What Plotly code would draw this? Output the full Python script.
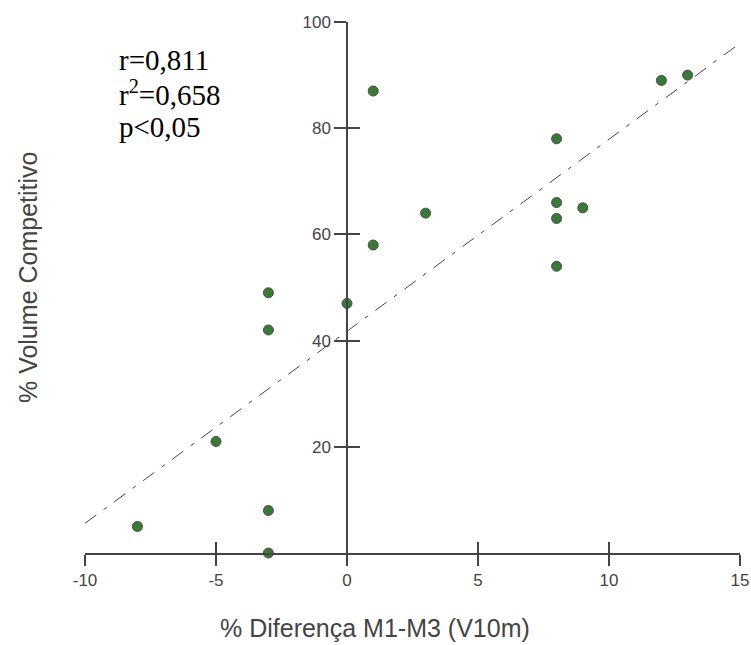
import plotly.graph_objects as go

# Data
diff_m1_m3 = [-8, -5, -3, -3, -3, -3, 0, 1, 1, 3, 8, 8, 8, 8, 9, 12, 13]
vol_competitivo = [5, 21, 49, 42, 8, 0, 47, 87, 58, 64, 78, 66, 63, 54, 65, 89, 90]

trend_x = [-10, 15]
trend_y = [5.6, 96]

x_ticks = [-10, -5, 0, 5, 10, 15]
x_tick_text = ["-10", "-5", "0", "5", "10", "15"]
y_ticks = [20, 40, 60, 80, 100]

stats_lines = ["r=0,811", "r<sup>2</sup>=0,658", "p<0,05"]

axis_col = "#444444"
font_sans = "Liberation Sans, Arial, sans-serif"

W, H = 751, 645
L, R, T, B = 85, 11, 22, 92
pw, ph = W - L - R, H - T - B


def px_x(page_x):
    return (page_x - L) / pw


def px_y(page_y):
    return (H - B - page_y) / ph


fig = go.Figure()

fig.add_trace(go.Scatter(
    x=trend_x, y=trend_y, mode="lines",
    line=dict(color="#444444", width=1, dash="14px,9px,4px,9px"),
    hoverinfo="skip", showlegend=False, cliponaxis=False,
))

fig.add_trace(go.Scatter(
    x=diff_m1_m3, y=vol_competitivo, mode="markers",
    marker=dict(size=10, color="#3a7a37", line=dict(color="#4a4a4a", width=1)),
    showlegend=False, cliponaxis=False,
))

# invisible trace for the overlaying axes (inside ticks -> crossing ticks)
fig.add_trace(go.Scatter(
    x=[trend_x[0]], y=[trend_y[0]], mode="markers", xaxis="x2", yaxis="y2",
    marker=dict(opacity=0), hoverinfo="skip", showlegend=False,
))

common_x = dict(range=[-10, 15], showgrid=False, zeroline=False, showline=True,
                linecolor=axis_col, linewidth=1.5, tickvals=x_ticks,
                ticktext=x_tick_text, ticklabeloverflow="allow",
                tickcolor=axis_col, tickwidth=1.5, ticklen=11, automargin=False)
common_y = dict(range=[0, 100], showgrid=False, zeroline=False, showline=True,
                linecolor=axis_col, linewidth=1.5, tickvals=y_ticks,
                ticklabeloverflow="allow",
                tickcolor=axis_col, tickwidth=1.5, ticklen=12,
                anchor="free", position=0.4, automargin=False)

fig.update_layout(
    width=W, height=H,
    paper_bgcolor="white", plot_bgcolor="white",
    margin=dict(l=L, r=R, t=T, b=B, autoexpand=False),
    xaxis=dict(**common_x, ticks="outside", domain=[0, 1],
               tickfont=dict(family=font_sans, size=17, color=axis_col)),
    yaxis=dict(**common_y, ticks="outside",
               tickfont=dict(family=font_sans, size=17, color=axis_col)),
    xaxis2=dict(**common_x, ticks="inside", overlaying="x", anchor="y2",
                showticklabels=False),
    yaxis2=dict(**common_y, ticks="inside", overlaying="y", side="left",
                showticklabels=False),
    annotations=[
        dict(text="% Volume Competitivo", xref="paper", yref="paper",
             x=px_x(28), y=px_y(277), textangle=-90,
             showarrow=False, xanchor="center", yanchor="middle",
             font=dict(family=font_sans, size=25, color=axis_col)),
        dict(text="% Diferença M1-M3 (V10m)", xref="paper", yref="paper",
             x=px_x(375), y=px_y(628),
             showarrow=False, xanchor="center", yanchor="middle",
             font=dict(family=font_sans, size=25, color=axis_col)),
    ] + [
        dict(text=t, xref="paper", yref="paper", x=px_x(117),
             y=px_y(yy), xanchor="left", yanchor="middle",
             showarrow=False,
             font=dict(family="Liberation Serif, Times New Roman, serif",
                       size=29, color="black"))
        for t, yy in zip(stats_lines, [60, 93, 127])
    ],
)

fig.write_html(
    "out.html",
    config={"displayModeBar": False},
    post_script="document.body.style.margin='0';"
                "document.body.style.overflow='hidden';",
)
